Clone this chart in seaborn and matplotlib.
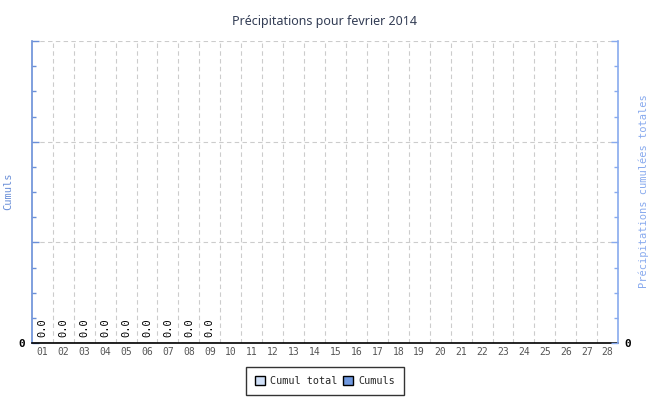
import matplotlib
matplotlib.use("Agg")
from matplotlib import pyplot as plt
from matplotlib.patches import Patch
from matplotlib.ticker import FixedLocator
import numpy as np
import pandas as pd
import seaborn as sns

days = [f"{d:02d}" for d in range(1, 29)]
cumuls = [0.0] * 9 + [np.nan] * 19
cumul_total = [0.0] * 9 + [np.nan] * 19
y_major = [0, 1, 2, 3]
y_labels = ["0", "", "", ""]

df = pd.DataFrame({"Jour": days, "Cumuls": cumuls, "Cumul total": cumul_total})

sns.set_style("white")
plt.rcParams["font.family"] = ["DejaVu Sans Mono", "DejaVu Sans"]

col_left = "#6a8fd8"
col_right = "#88aaee"
col_total = "#d0e0f8"
col_cumul = "#7099e0"

fig = plt.figure(figsize=(6.5, 4), dpi=100)
ax = fig.add_axes([0.049, 0.1425, 0.902, 0.755])

sns.barplot(data=df, x="Jour", y="Cumuls", order=days, color=col_cumul,
            edgecolor="black", linewidth=0.8, ax=ax)
ax2 = ax.twinx()
sns.barplot(data=df, x="Jour", y="Cumul total", order=days, color=col_total,
            edgecolor="black", linewidth=0.8, ax=ax2)

for a in (ax, ax2):
    a.set_xlim(-0.5, len(days) - 0.5)
    a.set_ylim(0, 3)
    a.set_yticks(y_major)
    a.set_yticklabels(y_labels)
    a.yaxis.set_minor_locator(FixedLocator(np.arange(0.25, 3, 0.25)))
    a.spines["top"].set_visible(False)
    a.set_ylabel("")
    a.set_xlabel("")

# étiquettes des valeurs
for i, v in enumerate(cumuls):
    if not np.isnan(v):
        ax.annotate(f"{v:.1f}", (i, v), xytext=(0, 4), textcoords="offset points",
                    rotation=90, ha="center", va="bottom", fontsize=7.5,
                    color="black")

# axe x
ax.set_xticks(range(len(days)))
ax.set_xticklabels(days, fontsize=7, color="#555555")
ax.xaxis.set_minor_locator(FixedLocator(np.arange(0.5, len(days) - 1, 1)))
ax.tick_params(axis="x", which="major", length=0, pad=3)
ax.tick_params(axis="x", which="minor", length=5, direction="in", color="black", width=1)
ax.spines["bottom"].set_color("black")
ax.spines["bottom"].set_linewidth(1.2)

# grilles
ax.grid(axis="x", which="minor", linestyle=(0, (4, 3)), color="#cccccc", linewidth=0.8)
ax.grid(axis="y", which="major", linestyle=(0, (4, 3)), color="#cccccc", linewidth=0.8)
ax.set_axisbelow(True)

# axe gauche
ax.spines["left"].set_color(col_left)
ax.spines["left"].set_linewidth(1.2)
ax.tick_params(axis="y", which="major", length=5, direction="in", color=col_left,
               width=1, labelsize=8, pad=4.5)
ax.tick_params(axis="y", which="minor", length=3, direction="in", color=col_left, width=1)
ax.spines["right"].set_visible(False)
for t in ax.get_yticklabels():
    t.set_fontweight("bold")
    t.set_color("black")

# axe droit
ax2.spines["right"].set_color(col_right)
ax2.spines["right"].set_linewidth(1.2)
ax2.spines["left"].set_visible(False)
ax2.spines["bottom"].set_visible(False)
ax2.tick_params(axis="y", which="major", length=5, direction="in", color=col_right,
                width=1, labelsize=8, pad=4.5)
ax2.tick_params(axis="y", which="minor", length=3, direction="in", color=col_right, width=1)
for t in ax2.get_yticklabels():
    t.set_fontweight("bold")
    t.set_color("black")

fig.text(8 / 650, 1 - 191 / 400, "Cumuls", rotation=90, ha="center", va="center",
         color=col_left, fontsize=7.5)
fig.text(644 / 650, 1 - 191 / 400, "Précipitations cumulées totales", rotation=90,
         ha="center", va="center", color=col_right, fontsize=7.5)

fig.text(0.5, 1 - 22 / 400, "Précipitations pour fevrier 2014", ha="center",
         va="center", fontsize=9, color="#333d55", family="Noto Sans")

handles = [Patch(facecolor=col_total, edgecolor="black", label="Cumul total"),
           Patch(facecolor=col_cumul, edgecolor="black", label="Cumuls")]
fig.legend(handles=handles, loc="center", bbox_to_anchor=(0.5, 1 - 381 / 400), ncol=2,
           frameon=True, fancybox=False, edgecolor="black", fontsize=7.3,
           handlelength=1.0, handleheight=1.0, handletextpad=0.5, columnspacing=0.5,
           borderpad=0.9)

fig.savefig("out.png", dpi=100)
